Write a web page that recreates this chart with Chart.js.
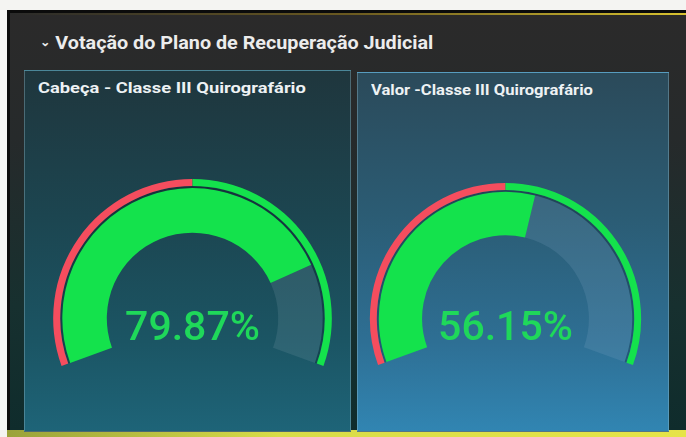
<!DOCTYPE html>
<html>
<head>
<meta charset="utf-8">
<script src="https://cdn.jsdelivr.net/npm/chart.js@4.4.1/dist/chart.umd.min.js"></script>
<style>
  html, body { margin: 0; padding: 0; }
  body { width: 686px; height: 437px; position: relative; overflow: hidden; background: #f4f4f2; font-family: Roboto, 'Liberation Sans', sans-serif; }
  .screen { position: absolute; left: 7px; top: 10px; width: 679px; height: 427px; background: #0b0b0b; }
  .inner { position: absolute; left: 3px; top: 3px; right: 0; bottom: 6px;
           background: linear-gradient(180deg, #2b2a2a 0%, #262a2b 30%, #17302f 70%, #0f2c2c 100%); }
  .glow { position: absolute; left: 0; right: 0; top: 0; height: 2px;
          background: linear-gradient(90deg, #2a2a2a 0%, #6b5a20 50%, #d8c230 100%); }
  .bottom { position: absolute; left: 7px; right: 0; top: 430px; bottom: 0;
            background: linear-gradient(90deg, #9aa23a 0%, #d8dc48 40%, #e6e448 100%); }
  .title { position: absolute; left: 40px; top: 31px; color: #ececec; font-size: 19px; font-weight: 700;
           white-space: nowrap; transform-origin: left center; }
  .chev { font-size: 12px; position: relative; top: -3px; }
  .panel { position: absolute; border: 1px solid rgba(160, 200, 215, 0.35); box-sizing: border-box; }
  #p1 { left: 24px; top: 70px; width: 327px; height: 362px;
        background: linear-gradient(180deg, #1f363d 0%, #1c4550 40%, #1b5564 75%, #1e6478 100%); }
  #p2 { left: 357px; top: 72px; width: 312px; height: 360px;
        background: linear-gradient(180deg, #2b4a5a 0%, #2b5c74 40%, #2e6f94 75%, #3185b2 100%); }
  .ptitle { position: absolute; left: 13px; top: 9px; color: #eef2f4; font-size: 14.5px; font-weight: 700;
            white-space: nowrap; transform-origin: left center; }
  .gauge { position: absolute; }
  #g1 { left: 53px; top: 179px; width: 279px; height: 187px; }
  #g2 { left: 369px; top: 183px; width: 273px; height: 182px; }
</style>
</head>
<body>
<div class="screen"><div class="inner"><div class="glow"></div></div></div>
<div class="bottom"></div>
<div class="title" id="title"><span class="chev">&#8964;</span> Votação do Plano de Recuperação Judicial</div>
<div class="panel" id="p1"><div class="ptitle" id="t1"></div></div>
<div class="panel" id="p2"><div class="ptitle" id="t2"></div></div>
<div class="gauge" id="g1"><canvas id="c1"></canvas></div>
<div class="gauge" id="g2"><canvas id="c2"></canvas></div>
<script>
// gauge data
const gaugeTitles = ['Cabeça - Classe III Quirografário', 'Valor -Classe III Quirografário'];
const gaugeValues = [79.87, 56.15];
const gaugeMax = 100;
const thresholdSteps = [50, 50];          // red 0-50, green 50-100
const thresholdColors = ['#f54d5e', '#14e24c'];

const GREEN = '#14e24c';
const REST = ['rgba(140, 170, 185, 0.17)', 'rgba(140, 180, 210, 0.17)'];

const percentText = {
    id: 'percentText',
    afterDraw(chart, args, opts) {
        const arc = chart.getDatasetMeta(0).data[0];
        if (!arc) return;
        const ctx = chart.ctx;
        ctx.save();
        ctx.font = '500 41px Roboto, sans-serif';
        ctx.fillStyle = '#1fd85a';
        ctx.textAlign = 'center';
        ctx.textBaseline = 'middle';
        ctx.fillText(opts.text, arc.x, arc.y + 11);
        ctx.restore();
    }
};

function makeGauge(canvasId, idx) {
    const v = gaugeValues[idx];
    new Chart(document.getElementById(canvasId), {
        type: 'doughnut',
        data: {
            datasets: [
                { data: thresholdSteps, backgroundColor: thresholdColors, borderWidth: 0, weight: 7 },
                { data: [gaugeMax], backgroundColor: ['rgba(0,0,0,0.22)'], borderWidth: 0, weight: 2 },
                { data: [v, gaugeMax - v], backgroundColor: [GREEN, REST[idx]], borderWidth: 0, weight: 44 }
            ]
        },
        options: {
            responsive: true,
            maintainAspectRatio: false,
            animation: false,
            rotation: -110,
            circumference: 220,
            cutout: '61.5%',
            layout: { padding: 0 },
            plugins: {
                legend: { display: false },
                tooltip: { enabled: false },
                percentText: { text: v.toFixed(2) + '%' }
            }
        },
        plugins: [percentText]
    });
}

document.getElementById('t1').textContent = gaugeTitles[0];
document.getElementById('t2').textContent = gaugeTitles[1];
makeGauge('c1', 0);
makeGauge('c2', 1);

// squeeze titles to the photo's width
function fit(id, w) {
    const el = document.getElementById(id);
    el.style.transform = 'scaleX(' + (w / el.offsetWidth) + ')';
}
fit('title', 393);
fit('t1', 268);
fit('t2', 222);
</script>
</body>
</html>
